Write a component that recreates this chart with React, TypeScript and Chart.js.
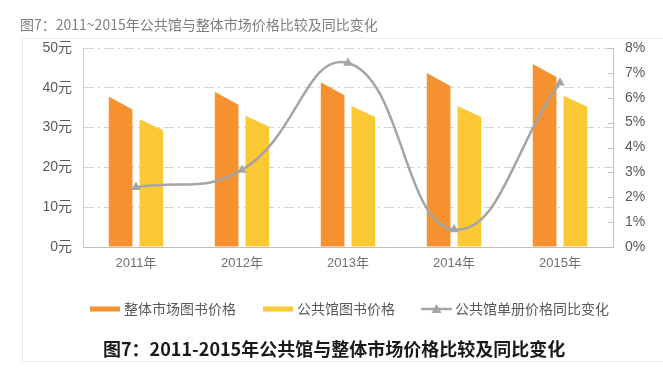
import React, { useEffect, useRef } from "react";
import { Chart, registerables } from "chart.js";

Chart.register(...registerables);

const categories = ["2011年", "2012年", "2013年", "2014年", "2015年"];
const marketPrice = [37.8, 39.0, 41.4, 43.7, 46.0];
const libraryPrice = [32.1, 33.0, 35.4, 35.4, 38.0];
const libraryYoY = [2.4, 3.1, 7.4, 0.7, 6.6];
const seriesLabels = ["整体市场图书价格", "公共馆图书价格", "公共馆单册价格同比变化"];
const titleText = "图7：2011~2015年公共馆与整体市场价格比较及同比变化";
const captionText = "图7：2011-2015年公共馆与整体市场价格比较及同比变化";

const ORANGE = "#F5922F";
const YELLOW = "#FBC933";
const GRAY = "#A5A5A5";
const FONT = "'Liberation Sans', 'Noto Sans CJK SC', sans-serif";
const CJK = "'Noto Sans CJK SC', sans-serif";

const slantBars = {
  id: "slantBars",
  beforeDatasetsDraw(chart: any) {
    const ctx = chart.ctx;
    chart.data.datasets.forEach((ds: any, i: number) => {
      if (ds.type !== "bar") return;
      const meta = chart.getDatasetMeta(i);
      ctx.save();
      ctx.fillStyle = ds.fillColor;
      meta.data.forEach((el: any) => {
        const { x, y, base, width } = el.getProps(["x", "y", "base", "width"], true);
        const l = x - width / 2;
        const r = x + width / 2;
        ctx.beginPath();
        ctx.moveTo(l, base);
        ctx.lineTo(l, y);
        ctx.lineTo(r, y + ds.drop);
        ctx.lineTo(r, base);
        ctx.closePath();
        ctx.fill();
      });
      ctx.restore();
    });
  },
};

const decorations = {
  id: "decorations",
  afterDraw(chart: any) {
    const ctx = chart.ctx;
    ctx.save();
    // faint frame
    ctx.strokeStyle = "#ededed";
    ctx.lineWidth = 1;
    ctx.strokeRect(22.5, 38.5, 700, 323);
    // title
    ctx.fillStyle = "#7f7f7f";
    ctx.font = `14px ${CJK}`;
    ctx.textBaseline = "middle";
    ctx.textAlign = "left";
    ctx.fillText(titleText, 20, 25);
    // right axis inner ticks
    const s = chart.scales.y1;
    ctx.strokeStyle = "#bfbfbf";
    ctx.lineWidth = 1;
    s.ticks.forEach((t: any) => {
      const yy = Math.round(s.getPixelForValue(t.value)) + 0.5;
      ctx.beginPath();
      ctx.moveTo(s.left - 5, yy);
      ctx.lineTo(s.left, yy);
      ctx.stroke();
    });
    // legend
    const xs = [90, 263, 421];
    const ly = 309;
    ctx.font = `14px ${CJK}`;
    chart.data.datasets.forEach((ds: any, i: number) => {
      const x0 = xs[i];
      if (ds.type === "bar") {
        ctx.fillStyle = ds.fillColor;
        ctx.fillRect(x0, ly - 2.5, 30, 5);
      } else {
        ctx.strokeStyle = GRAY;
        ctx.lineWidth = 2.5;
        ctx.beginPath();
        ctx.moveTo(x0, ly);
        ctx.lineTo(x0 + 31, ly);
        ctx.stroke();
        ctx.fillStyle = GRAY;
        ctx.beginPath();
        ctx.moveTo(x0 + 15.5, ly - 5);
        ctx.lineTo(x0 + 20.5, ly + 4);
        ctx.lineTo(x0 + 10.5, ly + 4);
        ctx.closePath();
        ctx.fill();
      }
      ctx.fillStyle = "#595959";
      ctx.fillText(ds.label, x0 + 34, ly);
    });
    // caption
    ctx.fillStyle = "#1a1a1a";
    ctx.font = `bold 18px ${CJK}`;
    ctx.fillText(captionText, 103, 349);
    ctx.restore();
  },
};

export default function App() {
  const ref = useRef<HTMLCanvasElement>(null);
  useEffect(() => {
    if (!ref.current) return;
    const chart = new Chart(ref.current, {
      type: "bar",
      data: {
        labels: categories,
        datasets: [
          {
            type: "bar",
            label: seriesLabels[0],
            data: marketPrice,
            yAxisID: "y",
            backgroundColor: "rgba(0,0,0,0)",
            fillColor: ORANGE,
            drop: 13,
            categoryPercentage: 0.58,
            barPercentage: 0.77,
          } as any,
          {
            type: "bar",
            label: seriesLabels[1],
            data: libraryPrice,
            yAxisID: "y",
            backgroundColor: "rgba(0,0,0,0)",
            fillColor: YELLOW,
            drop: 11,
            categoryPercentage: 0.58,
            barPercentage: 0.77,
          } as any,
          {
            type: "line",
            label: seriesLabels[2],
            data: libraryYoY,
            yAxisID: "y1",
            borderColor: GRAY,
            backgroundColor: GRAY,
            borderWidth: 2.5,
            tension: 0.45,
            pointStyle: "triangle",
            pointRadius: 5.5,
            pointBackgroundColor: GRAY,
            pointBorderWidth: 0,
            fill: false,
          } as any,
        ],
      },
      options: {
        responsive: false,
        animation: false,
        layout: { padding: { left: 0, right: 0, top: 48, bottom: 103 } },
        plugins: { legend: { display: false }, title: { display: false }, tooltip: { enabled: false } },
        scales: {
          x: {
            grid: { display: false, drawTicks: false },
            border: { display: true, color: "#bfbfbf", width: 1 },
            ticks: { color: "#707070", font: { family: FONT, size: 13 }, padding: 9 },
            afterFit: (s: any) => { s.height = 30; },
          },
          y: {
            position: "left",
            min: 0,
            max: 50,
            ticks: {
              stepSize: 10,
              callback: (v: any) => v + "元",
              color: "#595959",
              font: { family: FONT, size: 14 },
              padding: 11,
            },
            grid: { color: "#d4d4d4", lineWidth: 1, drawTicks: false },
            border: { display: true, color: "#c8c8c8", dash: [10, 4, 2, 4] },
            afterFit: (s: any) => { s.width = 83; },
          },
          y1: {
            position: "right",
            min: 0,
            max: 8,
            ticks: {
              stepSize: 1,
              callback: (v: any) => v + "%",
              color: "#595959",
              font: { family: FONT, size: 14 },
              padding: 12,
            },
            grid: { drawOnChartArea: false, drawTicks: false },
            border: { display: true, color: "#bfbfbf" },
            afterFit: (s: any) => { s.width = 50; },
          },
        },
      } as any,
      plugins: [slantBars, decorations],
    });
    return () => chart.destroy();
  }, []);
  return (
    <div style={{ position: "absolute", left: 0, top: 0, width: 663, height: 380, background: "#fff" }}>
      <canvas ref={ref} width={663} height={380} style={{ display: "block" }} />
    </div>
  );
}
